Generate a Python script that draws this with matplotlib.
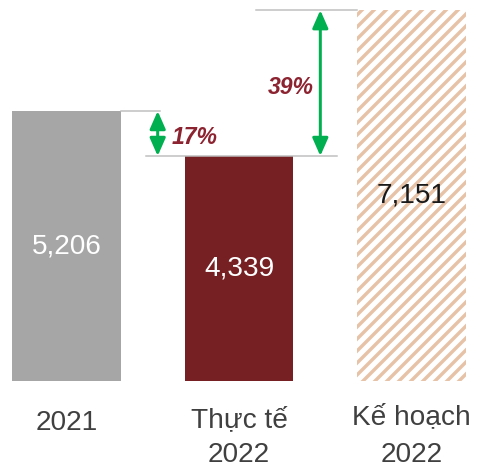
import matplotlib
matplotlib.use("Agg")
import matplotlib.pyplot as plt
from matplotlib.transforms import blended_transform_factory

categories = ["2021", "Thực tế\n2022", "Kế hoạch\n2022"]
values = [5206, 4339, 7151]
pct_labels = ["17%", "39%"]

BAR_COLORS = ["#A6A6A6", "#762024", "white"]
HATCH_COLOR = "#E6C2A7"
GREEN = "#00B050"
PCT_COLOR = "#8C2330"
REF_GRAY = "#BFBFBF"
TEXT_GRAY = "#404040"

plt.rcParams["font.family"] = ["Liberation Sans", "DejaVu Sans"]
plt.rcParams["hatch.linewidth"] = 3.4

DPI = 72
fig = plt.figure(figsize=(481 / DPI, 469 / DPI), dpi=DPI)
ax = fig.add_axes([0, 88 / 469, 1, 381 / 469])
ax.set_xlim(-66.5 / 173, 2 + (481 - 411.5) / 173)
ax.set_ylim(0, 7347)
ax.axis("off")

w = 0.63
xs = list(range(len(values)))
for i, (x, v) in enumerate(zip(xs, values)):
    if i == 2:
        ax.bar(x, v, width=w, color="white", edgecolor=HATCH_COLOR,
               hatch="//", linewidth=0)
    else:
        ax.bar(x, v, width=w, color=BAR_COLORS[i], linewidth=0)
    txt_color = "white" if i < 2 else "#1A1A1A"
    ax.text(x, v / 2, f"{v:,}", ha="center", va="center",
            fontsize=28, color=txt_color)

# reference lines at bar tops
ax.plot([w / 2, 0.54], [values[0]] * 2, color=REF_GRAY, lw=1.5)
ax.plot([0.46, 1.57], [values[1]] * 2, color=REF_GRAY, lw=1.5)
ax.plot([1.10, 2 - w / 2], [values[2]] * 2, color=REF_GRAY, lw=1.5)

# double-headed green arrows
arrow_kw = dict(arrowstyle="<|-|>,head_length=0.5,head_width=0.22",
                color=GREEN, lw=3, shrinkA=0, shrinkB=0, mutation_scale=30)
ax.annotate("", xy=(0.529, values[1]), xytext=(0.529, values[0]),
            arrowprops=arrow_kw)
ax.annotate("", xy=(1.471, values[1]), xytext=(1.471, values[2]),
            arrowprops=arrow_kw)

ax.text(0.743, 4704, pct_labels[0], ha="center", va="center", fontsize=23,
        fontweight="bold", fontstyle="italic", color=PCT_COLOR)
ax.text(1.298, 5668, pct_labels[1], ha="center", va="center", fontsize=23,
        fontweight="bold", fontstyle="italic", color=PCT_COLOR)

# category labels below the bars
tr = blended_transform_factory(ax.transData, fig.transFigure)
first_base = [430, 427, 424]
second_base = [None, 462, 462]
for x, cat, b1, b2 in zip(xs, categories, first_base, second_base):
    lines = cat.split("\n")
    ax.text(x, (469 - b1) / 469, lines[0], transform=tr, ha="center",
            va="baseline", fontsize=28, color=TEXT_GRAY)
    if len(lines) > 1:
        ax.text(x, (469 - b2) / 469, lines[1], transform=tr, ha="center",
                va="baseline", fontsize=28, color=TEXT_GRAY)

fig.savefig("out.png", dpi=DPI)
